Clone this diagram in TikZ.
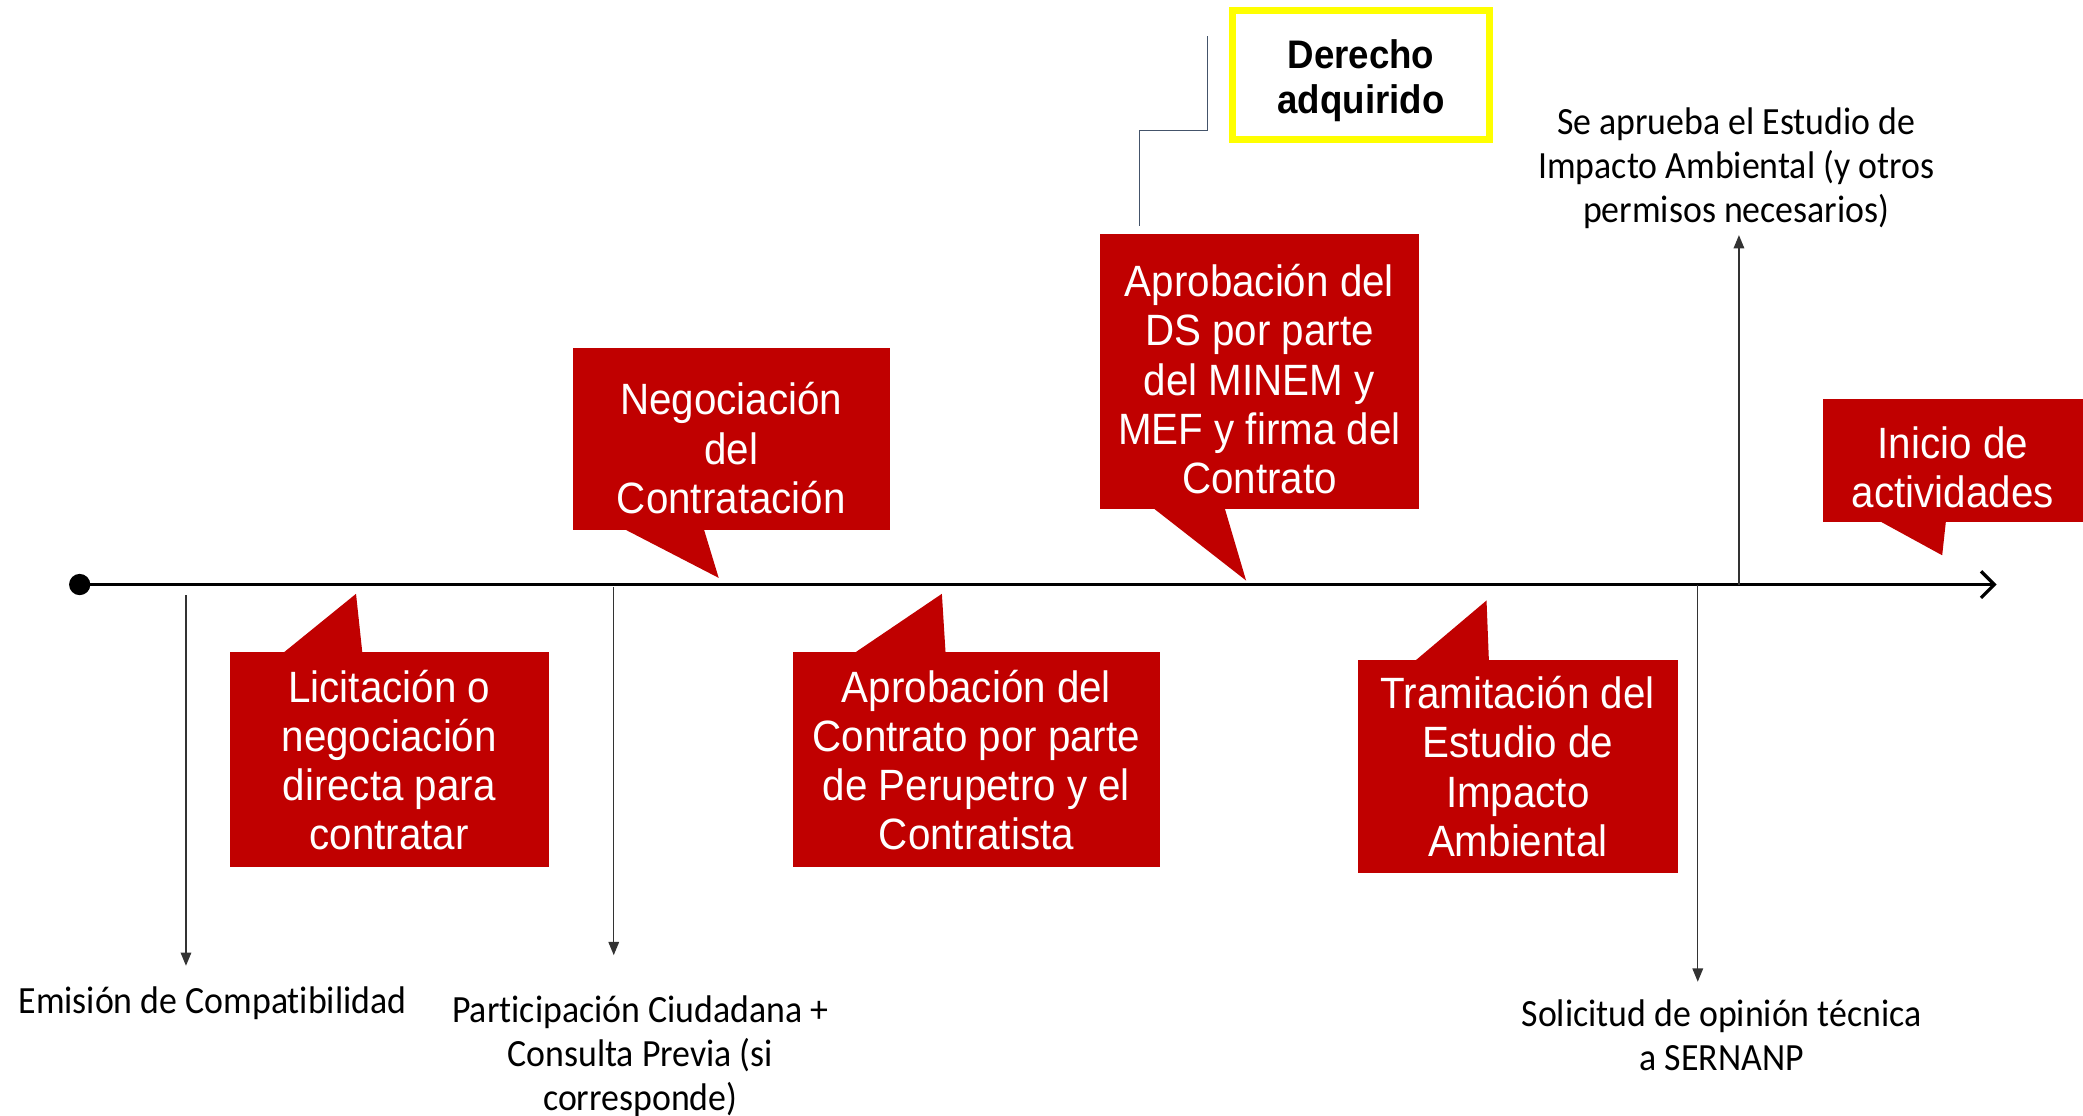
\documentclass[tikz,border=0pt]{standalone}
\usepackage{fontspec}
\setmainfont{Liberation Sans}
\newfontfamily\calloutfont[FakeStretch=0.92]{Liberation Sans}
\newfontfamily\labelfont[FakeStretch=0.93,Ligatures=NoCommon]{Carlito}
\usetikzlibrary{arrows.meta,calc}
\definecolor{calred}{RGB}{192,0,0}
\definecolor{connslate}{RGB}{68,84,106}
\definecolor{hiyellow}{RGB}{255,255,0}
\begin{document}
\begin{tikzpicture}[x=1pt,y=-1pt,
  callout/.style={fill=calred, text=white, inner sep=0pt, align=center,
    font=\calloutfont\fontsize{33}{37}\selectfont},
  lbl/.style={align=center, text=black, inner sep=0pt,
    font=\labelfont\fontsize{29}{33}\selectfont},
  tickarrow/.style={draw=black!80, line width=1pt, -{Triangle[length=10pt,width=8pt]}},
  pointer/.style={fill=calred},
]
\useasboundingbox (0,0) rectangle (1568,840);

% timeline
\node[circle, fill=black, inner sep=0pt, minimum size=16pt] (start) at (60,440) {};
\coordinate (tend) at (1503,440);
\draw[line width=2.5pt, -{Straight Barb[length=10pt,width=20pt,line width=2.5pt]}] (start.center) -- (tend);

% labels
\node[lbl] (emision) at (160,755) {Emisión de Compatibilidad};
\node[lbl] (particip) at (482,795) {Participación Ciudadana +\\Consulta Previa (si\\corresponde)};
\node[lbl] (solicitud) at (1296,779.5) {Solicitud de opinión técnica\\a SERNANP};
\node[lbl] (aprueba) at (1307,126.5) {Se aprueba el Estudio de\\Impacto Ambiental (y otros\\permisos necesarios)};

% tick arrows
\coordinate (t1) at (140,448); \coordinate (e1) at (140,727);
\coordinate (t2) at (462,442); \coordinate (e2) at (462,719);
\coordinate (t3) at (1278,440); \coordinate (e3) at (1278,739);
\coordinate (t4) at (1309,440); \coordinate (e4) at (1309,177);
\draw[tickarrow] (t1) -- (e1);
\draw[tickarrow] (t2) -- (e2);
\draw[tickarrow] (t3) -- (e3);
\draw[tickarrow] (t4) -- (e4);

% callouts
\node[callout, minimum width=240pt, minimum height=162pt] (c1) at (293,572)
  {Licitación o\\negociación\\directa para\\contratar};
\coordinate (p1) at (268,447);
\fill[pointer] ([xshift=40pt,yshift=-1pt]c1.north west) -- (p1) -- ([xshift=100pt,yshift=-1pt]c1.north west) -- cycle;

\node[callout, minimum width=239pt, minimum height=137pt] (c2) at (550.5,330.5)
  {\rule{0pt}{38pt}Negociación\\del\\Contratación};
\coordinate (p2) at (541,435);
\fill[pointer] ([xshift=39pt,yshift=1pt]c2.south west) -- (p2) -- ([xshift=99pt,yshift=1pt]c2.south west) -- cycle;

\node[callout, minimum width=240pt, minimum height=207pt] (c3) at (948,279.5)
  {\rule{0pt}{36pt}Aprobación del\\DS por parte\\del MINEM y\\MEF y firma del\\Contrato};
\coordinate (p3) at (938,437);
\fill[pointer] ([xshift=40pt,yshift=1pt]c3.south west) -- (p3) -- ([xshift=94pt,yshift=1pt]c3.south west) -- cycle;

\node[callout, minimum width=276pt, minimum height=162pt] (c4) at (735,572)
  {Aprobación del\\Contrato por parte\\de Perupetro y el\\Contratista};
\coordinate (p4) at (709,447);
\fill[pointer] ([xshift=46pt,yshift=-1pt]c4.north west) -- (p4) -- ([xshift=115pt,yshift=-1pt]c4.north west) -- cycle;

\node[callout, minimum width=241pt, minimum height=160pt] (c5) at (1142.5,577)
  {Tramitación del\\Estudio de\\Impacto\\Ambiental};
\coordinate (p5) at (1119,452);
\fill[pointer] ([xshift=43pt,yshift=-1pt]c5.north west) -- (p5) -- ([xshift=99pt,yshift=-1pt]c5.north west) -- cycle;

\node[callout, minimum width=196pt, minimum height=93pt] (c6) at (1470,346.5)
  {\rule{0pt}{34pt}Inicio de\\actividades};
\coordinate (p6) at (1462,418);
\fill[pointer] ([xshift=43pt,yshift=1pt]c6.south west) -- (p6) -- ([xshift=93pt,yshift=1pt]c6.south west) -- cycle;

% Derecho adquirido
\node[draw=hiyellow, line width=5pt, inner sep=0pt, minimum width=193pt, minimum height=97pt,
  align=center, font=\calloutfont\bfseries\fontsize{30}{34}\selectfont] (derecho) at (1024.5,56.5)
  {\rule{0pt}{30pt}Derecho\\adquirido};
\coordinate (d1) at (858,170);
\coordinate (dm) at (909,98);
\coordinate (d2) at (909,27);
\draw[connslate, line width=1pt] (d1) |- (dm) -- (d2);
\end{tikzpicture}
\end{document}
